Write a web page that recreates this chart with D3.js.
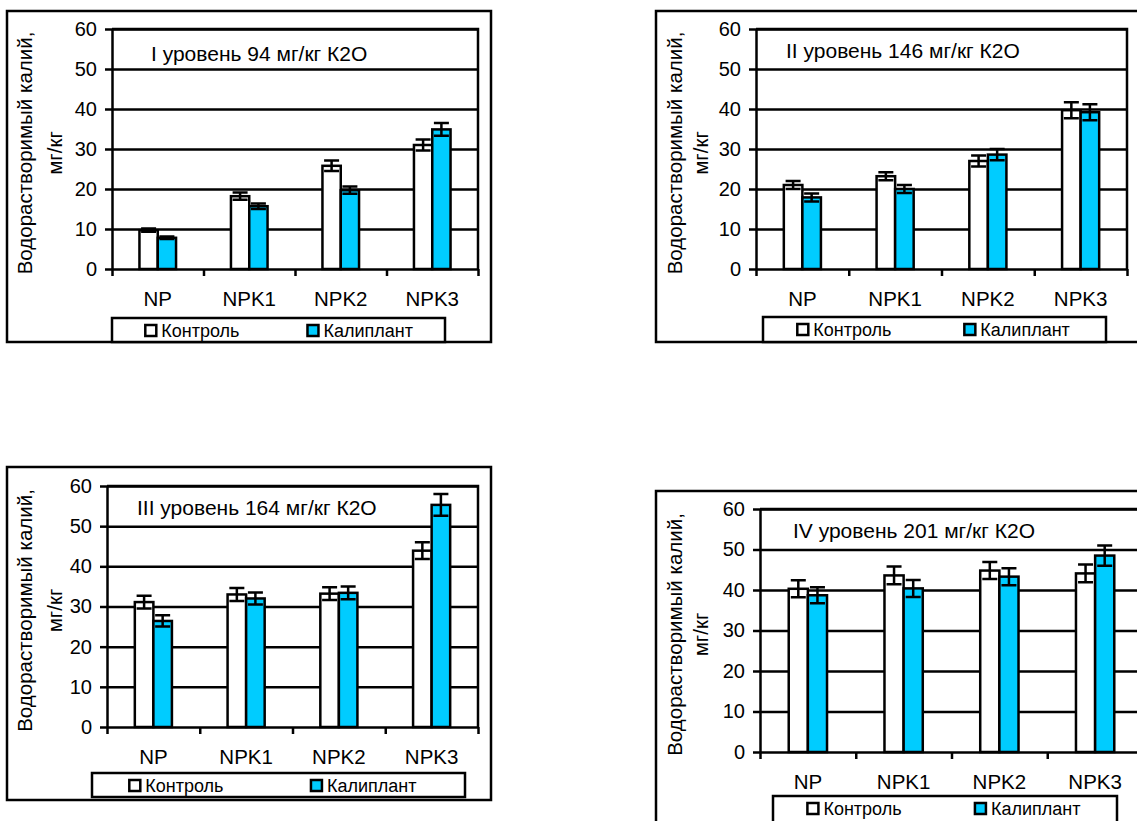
<!DOCTYPE html>
<html>
<head>
<meta charset="utf-8">
<script src="https://cdn.jsdelivr.net/npm/d3@7"></script>
<style>
  body { margin: 0; background: #fff; }
  svg { display: block; font-family: "Liberation Sans", Arial, sans-serif; }
</style>
</head>
<body>
<div id="chart"></div>
<script>
// categories and series
const categories = ["NP", "NPK1", "NPK2", "NPK3"];
const seriesNames = ["Контроль", "Калиплант"];
const yTicks = [0, 10, 20, 30, 40, 50, 60];
const yTitle = ["Водорастворимый калий,", "мг/кг"];
const panelTitles = [
  "I уровень 94 мг/кг К2О",
  "II уровень 146 мг/кг К2О",
  "III уровень 164 мг/кг К2О",
  "IV уровень 201 мг/кг К2О"
];

// values (mean, error)
const controlI = [9.7, 18.2, 25.8, 31.0];
const controlIErr = [0.4, 0.9, 1.3, 1.4];
const kaliI = [7.8, 15.7, 19.7, 34.9];
const kaliIErr = [0.3, 0.7, 0.9, 1.6];

const controlII = [21.0, 23.2, 27.0, 39.7];
const controlIIErr = [1.0, 1.0, 1.4, 2.0];
const kaliII = [17.9, 20.0, 28.6, 39.2];
const kaliIIErr = [1.0, 1.0, 1.4, 2.0];

const controlIII = [31.1, 33.0, 33.2, 43.9];
const controlIIIErr = [1.6, 1.6, 1.6, 2.1];
const kaliIII = [26.4, 32.0, 33.4, 55.3];
const kaliIIIErr = [1.4, 1.5, 1.6, 2.7];

const controlIV = [40.3, 43.6, 44.8, 44.1];
const controlIVErr = [2.1, 2.2, 2.1, 2.2];
const kaliIV = [38.7, 40.4, 43.3, 48.5];
const kaliIVErr = [2.0, 2.1, 2.1, 2.5];

const colors = ["#ffffff", "#00ccff"];
const lw = 2.5;

const panels = [
  { title: panelTitles[0], values: [controlI, kaliI], errors: [controlIErr, kaliIErr],
    frame: { x: 7, y: 11, w: 484, h: 331 }, plot: { x: 112, y: 29, w: 366, h: 240 },
    legend: { x: 112, y: 318, w: 333, h: 24 }, titlePos: [151, 61], yTitleX: [-80, -50] },
  { title: panelTitles[1], values: [controlII, kaliII], errors: [controlIIErr, kaliIIErr],
    frame: { x: 656, y: 11, w: 520, h: 331 }, plot: { x: 756, y: 29, w: 371, h: 240 },
    legend: { x: 763, y: 317, w: 343, h: 25 }, titlePos: [786, 58], yTitleX: [-74, -48] },
  { title: panelTitles[2], values: [controlIII, kaliIII], errors: [controlIIIErr, kaliIIIErr],
    frame: { x: 7, y: 467, w: 484, h: 333 }, plot: { x: 107, y: 486, w: 371, h: 241 },
    legend: { x: 92, y: 773, w: 373, h: 24 }, titlePos: [137, 515], yTitleX: [-75, -45] },
  { title: panelTitles[3], values: [controlIV, kaliIV], errors: [controlIVErr, kaliIVErr],
    frame: { x: 656, y: 491, w: 520, h: 400 }, plot: { x: 760, y: 509, w: 383, h: 243 },
    legend: { x: 773, y: 796, w: 344, h: 30 }, titlePos: [793, 538], yTitleX: [-78, -52] }
];

const svg = d3.select("#chart").append("svg")
  .attr("width", 1137)
  .attr("height", 821);

const drawPanel = (p) => {
  const { plot } = p;

  // outer chart frame
  svg.append("rect")
    .attr("x", p.frame.x).attr("y", p.frame.y)
    .attr("width", p.frame.w).attr("height", p.frame.h)
    .attr("fill", "#fff").attr("stroke", "#000").attr("stroke-width", lw);

  const g = svg.append("g").attr("transform", `translate(${plot.x},${plot.y})`);

  const y = d3.scaleLinear().domain([0, 60]).range([plot.h, 0]);
  const x = d3.scaleBand().domain(categories).range([0, plot.w]);
  const xEdge = d3.scaleLinear().domain([0, categories.length]).range([0, plot.w]);
  const barW = x.bandwidth() * 0.2;
  const xSeries = d3.scaleBand().domain(seriesNames)
    .range([x.bandwidth() / 2 - barW, x.bandwidth() / 2 + barW]);

  // gridlines
  g.append("g")
    .call(d3.axisLeft(y).tickValues(yTicks.slice(1)).tickSize(-plot.w).tickFormat(""))
    .call((s) => s.select(".domain").remove())
    .selectAll("line").attr("stroke", "#000").attr("stroke-width", lw);

  // plot area border (top and right)
  g.append("path")
    .attr("d", `M0,0H${plot.w}V${plot.h}`)
    .attr("fill", "none").attr("stroke", "#000").attr("stroke-width", lw);

  // bars
  seriesNames.forEach((name, si) => {
    g.append("g").selectAll("rect")
      .data(categories)
      .join("rect")
        .attr("x", (d) => x(d) + xSeries(name))
        .attr("y", (d, i) => y(p.values[si][i]))
        .attr("width", xSeries.bandwidth())
        .attr("height", (d, i) => plot.h - y(p.values[si][i]))
        .attr("fill", colors[si])
        .attr("stroke", "#000").attr("stroke-width", lw);
  });

  // error bars
  seriesNames.forEach((name, si) => {
    const eg = g.append("g").attr("stroke", "#000").attr("stroke-width", lw).attr("fill", "none");
    categories.forEach((c, i) => {
      const cx = x(c) + xSeries(name) + xSeries.bandwidth() / 2;
      const lo = y(p.values[si][i] - p.errors[si][i]);
      const hi = y(p.values[si][i] + p.errors[si][i]);
      const cap = 7.5;
      eg.append("path")
        .attr("d", `M${cx},${lo}V${hi}M${cx - cap},${hi}H${cx + cap}M${cx - cap},${lo}H${cx + cap}`);
    });
  });

  // y axis
  g.append("g")
    .call(d3.axisLeft(y).tickValues(yTicks).tickSize(7).tickPadding(8).tickSizeOuter(0))
    .call((s) => s.selectAll("line, path").attr("stroke", "#000").attr("stroke-width", lw))
    .call((s) => s.selectAll("text").attr("font-size", 20).attr("fill", "#000"));

  // x axis: ticks between categories
  g.append("g")
    .attr("transform", `translate(0,${plot.h})`)
    .call(d3.axisBottom(xEdge).tickValues(d3.range(categories.length + 1)).tickSize(7).tickFormat("").tickSizeOuter(0))
    .call((s) => s.selectAll("line, path").attr("stroke", "#000").attr("stroke-width", lw));

  g.append("g")
    .attr("transform", `translate(0,${plot.h})`)
    .call(d3.axisBottom(x).tickSize(0).tickPadding(22))
    .call((s) => s.select(".domain").remove())
    .call((s) => s.selectAll("text").attr("font-size", 20.5).attr("fill", "#000"));

  // panel title
  svg.append("text")
    .attr("x", p.titlePos[0]).attr("y", p.titlePos[1])
    .attr("font-size", 21)
    .text(p.title);

  // y title
  const cy = plot.y + plot.h / 2 + 4;
  yTitle.forEach((line, li) => {
    svg.append("text")
      .attr("transform", `translate(${plot.x + p.yTitleX[li]},${cy}) rotate(-90)`)
      .attr("text-anchor", "middle")
      .attr("font-size", 20.5)
      .text(line);
  });

  // legend
  const lg = svg.append("g").attr("transform", `translate(${p.legend.x},${p.legend.y})`);
  lg.append("rect")
    .attr("width", p.legend.w).attr("height", p.legend.h)
    .attr("fill", "#fff").attr("stroke", "#000").attr("stroke-width", lw);
  seriesNames.forEach((name, si) => {
    const lx = p.legend.w * (si === 0 ? 0.1 : 0.587);
    lg.append("rect")
      .attr("x", lx).attr("y", 7)
      .attr("width", 11).attr("height", 11)
      .attr("fill", colors[si]).attr("stroke", "#000").attr("stroke-width", lw);
    lg.append("text")
      .attr("x", lx + 16).attr("y", 18.5)
      .attr("font-size", 18)
      .text(name);
  });
};

panels.forEach(drawPanel);
</script>
</body>
</html>
